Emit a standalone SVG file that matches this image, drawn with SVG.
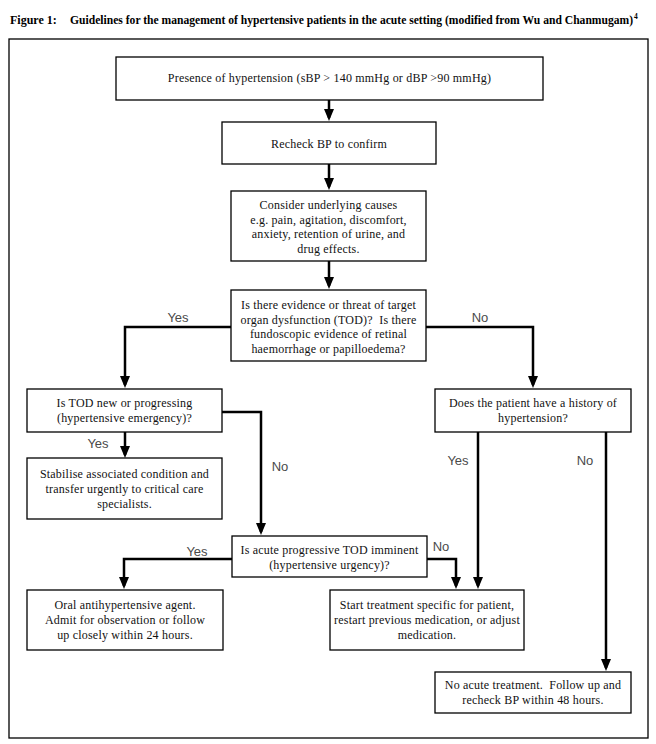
<svg xmlns="http://www.w3.org/2000/svg" width="656" height="744" viewBox="0 0 656 744">
<style>
.box{fill:#fff;stroke:#000;stroke-width:1.3}
.t{font-family:"Liberation Serif","Times New Roman",serif;font-size:12px;fill:#111;text-anchor:middle;letter-spacing:0.2px}
.lbl{font-family:"Liberation Sans",Arial,sans-serif;font-size:13px;fill:#4a4a4a;text-anchor:middle}
.c{fill:none;stroke:#000;stroke-width:2.5}
.title{font-family:"Liberation Serif","Times New Roman",serif;font-size:12px;font-weight:bold;fill:#000}
.title2{font-family:"Liberation Serif","Times New Roman",serif;font-size:11.6px;font-weight:bold;fill:#000}
.sup{font-size:7.5px}
</style>
<defs>
<marker id="ah" viewBox="0 0 12 10" refX="9" refY="5" markerWidth="12" markerHeight="10" markerUnits="userSpaceOnUse" orient="auto">
<path d="M0,0 L12,5 L0,10 z" fill="#000"/>
</marker>
</defs>
<rect width="656" height="744" fill="#fff"/>
<text class="title" x="10" y="24">Figure 1:</text>
<text class="title2" x="70" y="24">Guidelines for the management of hypertensive patients in the acute setting (modified from Wu and Chanmugam)<tspan class="sup" dx="1" dy="-5">4</tspan></text>
<rect x="9" y="39" width="639" height="699" fill="none" stroke="#000" stroke-width="1.3"/>

<g id="connectors">
<path class="c" d="M329,100 V118" marker-end="url(#ah)"/>
<path class="c" d="M329,164 V187" marker-end="url(#ah)"/>
<path class="c" d="M329,261 V286" marker-end="url(#ah)"/>
<path class="c" d="M231,327 H125 V385" marker-end="url(#ah)"/>
<path class="c" d="M426,327 H533 V385" marker-end="url(#ah)"/>
<path class="c" d="M125,432 V455" marker-end="url(#ah)"/>
<path class="c" d="M222,412 H261 V532" marker-end="url(#ah)"/>
<path class="c" d="M232,559 H124 V586" marker-end="url(#ah)"/>
<path class="c" d="M427,559 H456 V586" marker-end="url(#ah)"/>
<path class="c" d="M478,432 V586" marker-end="url(#ah)"/>
<path class="c" d="M606,432 V668" marker-end="url(#ah)"/>
<text class="lbl" x="178" y="322">Yes</text>
<text class="lbl" x="480" y="322">No</text>
<text class="lbl" x="98" y="448">Yes</text>
<text class="lbl" x="280" y="471">No</text>
<text class="lbl" x="197" y="556">Yes</text>
<text class="lbl" x="441" y="551">No</text>
<text class="lbl" x="458" y="465">Yes</text>
<text class="lbl" x="585" y="465">No</text>
</g>

<g id="n1"><rect class="box" x="116" y="57" width="427" height="43"/>
<text class="t" x="329.5" y="82">Presence of hypertension (sBP &gt; 140 mmHg or dBP &gt;90 mmHg)</text></g>

<g id="n2"><rect class="box" x="222" y="122" width="214" height="42"/>
<text class="t" x="329" y="148">Recheck BP to confirm</text></g>

<g id="n3"><rect class="box" x="231" y="191" width="195" height="70"/>
<text class="t" x="328.5" y="209">Consider underlying causes</text>
<text class="t" x="328.5" y="223.5">e.g. pain, agitation, discomfort,</text>
<text class="t" x="328.5" y="238">anxiety, retention of urine, and</text>
<text class="t" x="328.5" y="252.5">drug effects.</text></g>

<g id="n4"><rect class="box" x="231" y="290" width="195" height="71"/>
<text class="t" x="328.5" y="309">Is there evidence or threat of target</text>
<text class="t" x="328.5" y="323.5">organ dysfunction (TOD)?&#160; Is there</text>
<text class="t" x="328.5" y="338">fundoscopic evidence of retinal</text>
<text class="t" x="328.5" y="352.5">haemorrhage or papilloedema?</text></g>

<g id="n5"><rect class="box" x="27" y="389" width="195" height="43"/>
<text class="t" x="124.5" y="407">Is TOD new or progressing</text>
<text class="t" x="124.5" y="422">(hypertensive emergency)?</text></g>

<g id="n6"><rect class="box" x="27" y="458" width="195" height="61"/>
<text class="t" x="124.5" y="478">Stabilise associated condition and</text>
<text class="t" x="124.5" y="493">transfer urgently to critical care</text>
<text class="t" x="124.5" y="508">specialists.</text></g>

<g id="n7"><rect class="box" x="232" y="536" width="195" height="41"/>
<text class="t" x="329.5" y="554">Is acute progressive TOD imminent</text>
<text class="t" x="329.5" y="569">(hypertensive urgency)?</text></g>

<g id="n8"><rect class="box" x="27" y="590" width="196" height="60"/>
<text class="t" x="125" y="609">Oral antihypertensive agent.</text>
<text class="t" x="125" y="624">Admit for observation or follow</text>
<text class="t" x="125" y="639">up closely within 24 hours.</text></g>

<g id="n9"><rect class="box" x="435" y="389" width="196" height="43"/>
<text class="t" x="533" y="407">Does the patient have a history of</text>
<text class="t" x="533" y="422">hypertension?</text></g>

<g id="n10"><rect class="box" x="330" y="590" width="194" height="60"/>
<text class="t" x="427" y="609">Start treatment specific for patient,</text>
<text class="t" x="427" y="624">restart previous medication, or adjust</text>
<text class="t" x="427" y="639">medication.</text></g>

<g id="n11"><rect class="box" x="435" y="672" width="196" height="41"/>
<text class="t" x="533" y="689">No acute treatment.&#160; Follow up and</text>
<text class="t" x="533" y="704">recheck BP within 48 hours.</text></g>
</svg>
